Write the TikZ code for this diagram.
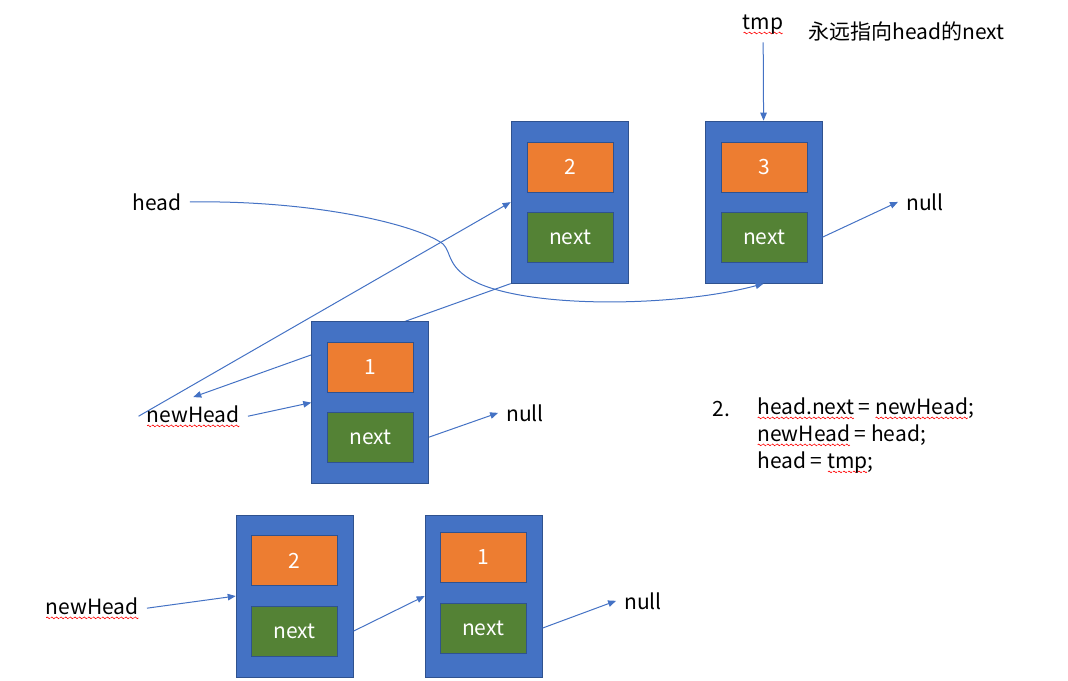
\documentclass[tikz,border=0pt]{standalone}
\usepackage{fontspec}
\setmainfont{Noto Sans CJK SC}
\usepackage{tikz}
\usetikzlibrary{positioning,arrows.meta}

\definecolor{boxblue}{HTML}{4472C4}
\definecolor{edgeblue}{HTML}{2F528F}
\definecolor{valorange}{HTML}{ED7D31}
\definecolor{nextgreen}{HTML}{548235}

\newsavebox\wavebox
\newcommand\makewave{\sbox\wavebox{\begin{pgfpicture}\pgfsetcolor{red}\pgfsetlinewidth{0.6pt}%
  \pgfpathmoveto{\pgfpoint{0pt}{0pt}}\pgfpathsine{\pgfpoint{1pt}{0.9pt}}\pgfpathcosine{\pgfpoint{1pt}{-0.9pt}}%
  \pgfpathsine{\pgfpoint{1pt}{-0.9pt}}\pgfpathcosine{\pgfpoint{1pt}{0.9pt}}\pgfusepath{stroke}\end{pgfpicture}}}
\newcommand\redwave[1]{\setbox0\hbox{#1}\rlap{\raisebox{-5pt}{\hbox to\wd0{\xleaders\copy\wavebox\hfil}}}#1}

\tikzset{
  cellbox/.style={draw=edgeblue,fill=boxblue,line width=1pt,minimum width=117pt,minimum height=162pt,inner sep=0pt},
  valbox/.style={draw=edgeblue,fill=valorange,line width=0.8pt,minimum width=86pt,minimum height=50pt,inner sep=0pt,text=white},
  nextbox/.style={valbox,fill=nextgreen},
  txt/.style={inner sep=8pt,anchor=base},
  link/.style={draw=boxblue,line width=1pt,-{Triangle[length=8pt,width=6.5pt]}}
}

\begin{document}
\begin{tikzpicture}[x=1pt,y=-1pt,font=\fontsize{21}{26}\selectfont]
    \makewave
    \useasboundingbox (0,0) rectangle (1068,679);
    % upper list
    \node[cellbox] (n2) at (569.5,201) {};
    \node[valbox] (v2) at (570,166) {2};
    \node[nextbox] (x2) at (570,236) {next};
    \node[cellbox] (n3) at (763.5,201) {};
    \node[valbox] (v3) at (764,166) {3};
    \node[nextbox] (x3) at (764,236) {next};
    \node[txt] (tmp) at (763,28) {\redwave{tmp}};
    \node[txt,anchor=base west] (note) at (800,38) {永远指向head的next};
    \node[txt] (null3) at (925,209) {null};
    \node[txt] (head) at (157,209) {head};
    \node[txt] (newHead) at (193,421) {\redwave{newHead}};
    \draw[link] (n2.south west) -- (newHead.north);
    % middle node
    \node[cellbox] (n1) at (370,401.5) {};
    \node[valbox] (v1) at (370.5,366) {1};
    \node[nextbox] (x1) at (370.5,436) {next};
    \node[txt] (null1) at (525,420) {null};
    \draw[link] (tmp) -- (n3.north);
    \draw[link] (n3.east |- x3) -- (null3.west);
    \draw[link] (head.east) .. controls (320,199) and (420,225) .. (443,243)
        .. controls (452,252) and (446,268) .. (480,283)
        .. controls (540,308) and (680,305) .. (n3.south);
    \draw[link] (newHead.west) -- (n2.west);
    \draw[link] (newHead.east) -- (n1.west);
    \draw[link] (n1.east |- x1) -- (null1.west);
    % code
    \node[txt,anchor=base west] (stepnum) at (704,415) {2.};
    \node[txt,anchor=base west] (lineA) at (749,413) {\redwave{head.next} = \redwave{newHead};};
    \node[txt,anchor=base west] (lineB) at (749,440) {\redwave{newHead} = head;};
    \node[txt,anchor=base west] (lineC) at (749,467) {head = \redwave{tmp};};
    % lower list
    \node[cellbox] (m2) at (294.5,595) {};
    \node[valbox] (mv2) at (294.5,559.5) {2};
    \node[nextbox] (mx2) at (294.5,630) {next};
    \node[cellbox] (m1) at (483.5,595) {};
    \node[valbox] (mv1) at (483,556) {1};
    \node[nextbox] (mx1) at (483,627) {next};
    \node[txt] (newHeadB) at (92,613) {\redwave{newHead}};
    \node[txt] (nullB) at (643,608) {null};
    \draw[link] (newHeadB.east) -- (m2.west);
    \draw[link] (m2.east |- mx2) -- (m1.west);
    \draw[link] (m1.east |- mx1) -- (nullB.west);
\end{tikzpicture}
\end{document}
